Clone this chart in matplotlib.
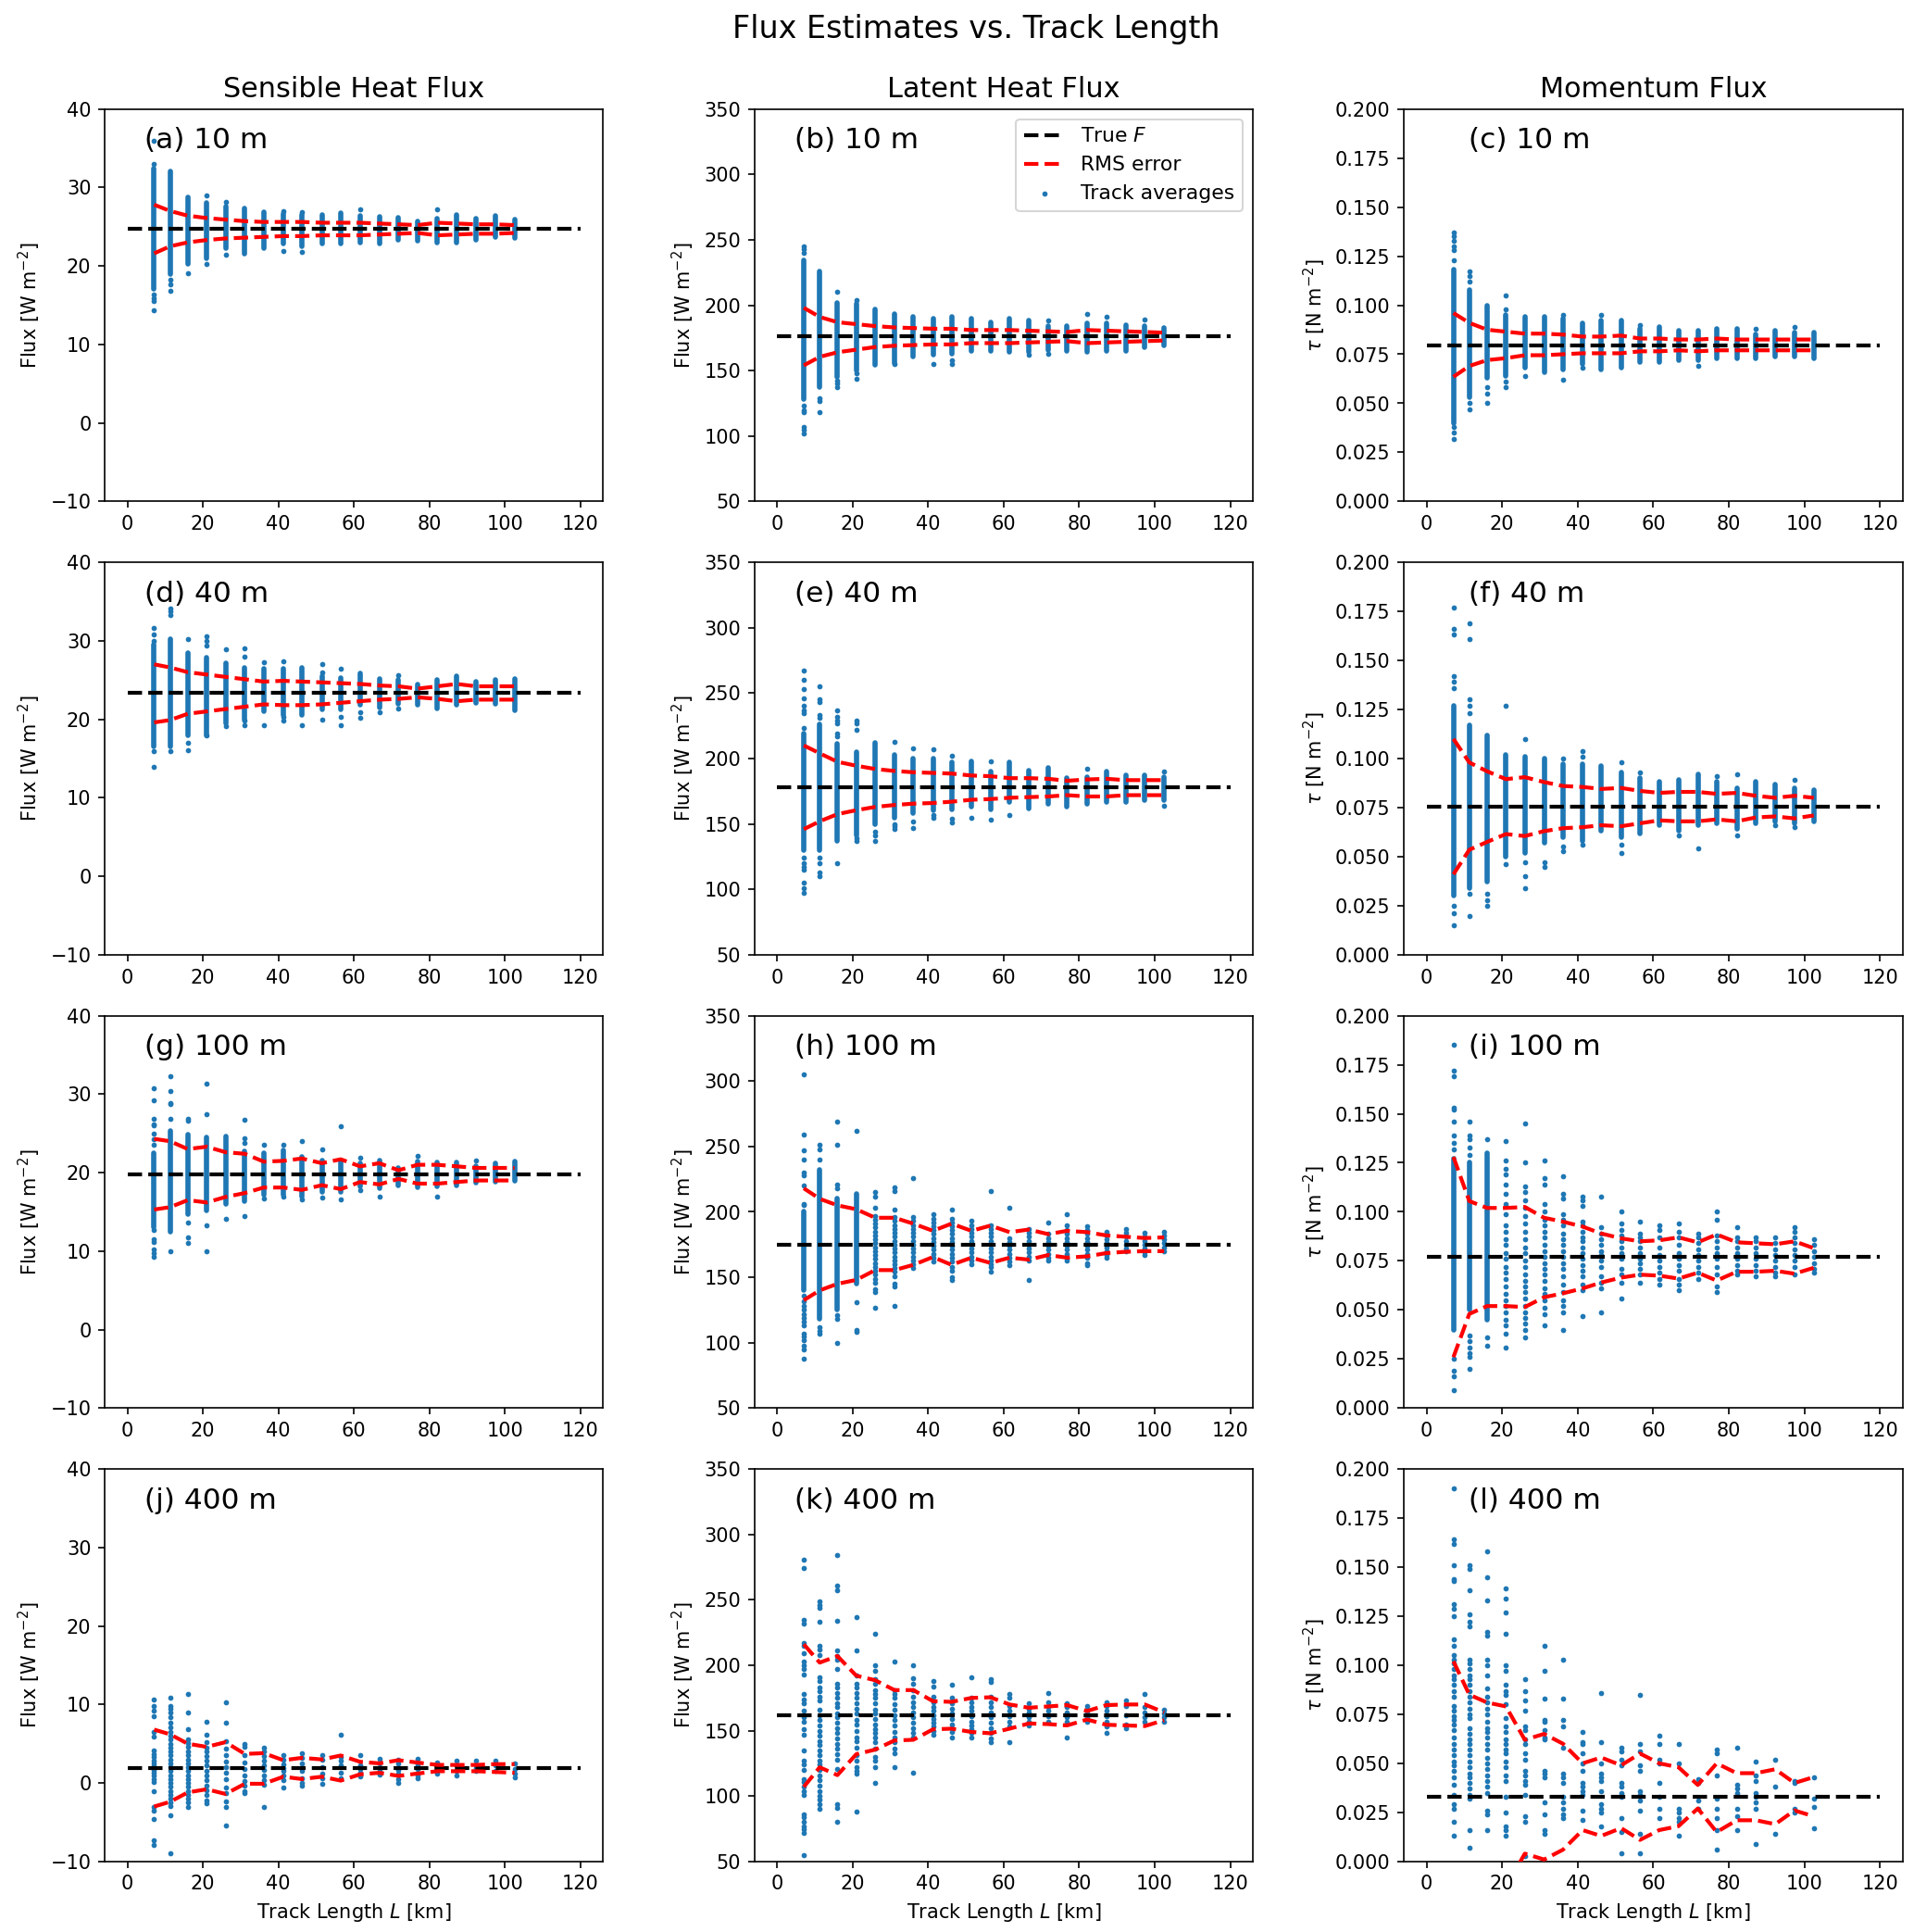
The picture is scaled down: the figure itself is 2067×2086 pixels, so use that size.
import matplotlib.pyplot as plt
from matplotlib.ticker import MultipleLocator
import numpy as np

# track lengths L [km] of the 20 track-average columns
track_km = [7.1, 11.3, 16.0, 21.0, 26.0, 31.1, 36.1, 41.3, 46.2, 51.5,
            56.5, 61.6, 66.7, 71.8, 76.8, 82.1, 87.2, 92.3, 97.4, 102.5]
true_span = [0, 120]

col_titles = ["Sensible Heat Flux", "Latent Heat Flux", "Momentum Flux"]
heights = ["10 m", "40 m", "100 m", "400 m"]
letters = "abcdefghijkl"

# ---------------- (a) sensible, 10 m ----------------
a_true = 24.7
a_hi = [27.8, 27.0, 26.4, 26.1, 25.9, 25.7, 25.6, 25.6, 25.6, 25.5,
        25.5, 25.5, 25.4, 25.3, 25.2, 25.5, 25.4, 25.3, 25.3, 25.2]
a_lo = [21.6, 22.5, 23.0, 23.3, 23.5, 23.6, 23.7, 23.8, 23.8, 23.9,
        23.9, 23.9, 24.0, 24.1, 24.2, 23.9, 24.0, 24.1, 24.1, 24.2]
a_band = [(17.1, 32.4), (19.0, 32.0), (20.3, 28.8), (21.0, 28.0), (22.3, 27.6),
          (21.6, 27.3), (22.2, 26.9), (22.8, 26.6), (22.5, 26.5), (22.9, 26.5),
          (22.8, 26.7), (23.0, 26.4), (22.9, 26.3), (23.3, 26.1), (23.2, 25.7),
          (23.0, 26.0), (23.0, 26.5), (23.3, 26.0), (23.7, 26.4), (23.5, 25.9)]
a_pts = [[35.9, 33.0, 16.4, 15.9, 15.5, 14.3], [18.2, 17.6, 16.8], [19.1], [29.0, 20.3],
         [28.2, 21.4], [], [], [27.0, 21.9], [26.9, 21.8], [], [], [27.2], [], [], [],
         [27.2], [], [], [], []]

# ---------------- (b) latent, 10 m ----------------
b_true = 176
b_hi = [198, 191, 187, 185.5, 184, 183, 182.5, 182, 182, 181,
        181, 181, 180.5, 180, 179.5, 181, 180.5, 180, 179.5, 179]
b_lo = [154, 160.5, 164, 166, 168, 169, 169.5, 170, 170, 171,
        171, 171, 171.5, 172, 172.5, 171, 171.5, 172, 172.5, 173]
b_band = [(128, 234), (137, 226), (145, 202), (150, 201), (154, 197), (156, 193),
          (161, 191), (162, 190), (163, 191), (165, 190), (165, 187), (164, 190),
          (164, 188), (166, 184), (165, 184), (164, 186), (165, 186), (165, 185),
          (168, 184), (169, 183)]
b_pts = [[245, 243, 240, 123, 120, 118, 107, 105, 102], [129, 127, 118], [210, 142, 140, 137],
         [204, 148, 144], [], [155], [], [155], [158, 155], [], [], [], [162], [188, 163],
         [], [193], [191], [], [189], []]

# ---------------- (c) momentum, 10 m ----------------
c_true = 0.0797
c_hi = [0.096, 0.091, 0.0875, 0.0865, 0.0855, 0.0855, 0.085, 0.084, 0.084, 0.0845,
        0.083, 0.083, 0.0825, 0.0825, 0.083, 0.0825, 0.0825, 0.0825, 0.0825, 0.0825]
c_lo = [0.0635, 0.069, 0.072, 0.073, 0.0745, 0.0745, 0.075, 0.0755, 0.0755, 0.0755,
        0.0765, 0.0765, 0.077, 0.0765, 0.077, 0.077, 0.077, 0.077, 0.077, 0.077]
c_band = [(0.040, 0.118), (0.053, 0.108), (0.063, 0.100), (0.064, 0.095), (0.068, 0.094),
          (0.066, 0.094), (0.067, 0.093), (0.070, 0.091), (0.067, 0.092), (0.068, 0.092),
          (0.071, 0.088), (0.071, 0.089), (0.072, 0.087), (0.072, 0.087), (0.073, 0.088),
          (0.073, 0.088), (0.073, 0.085), (0.074, 0.087), (0.074, 0.086), (0.073, 0.086)]
c_pts = [[0.137, 0.135, 0.133, 0.130, 0.128, 0.123, 0.038, 0.035, 0.032],
         [0.117, 0.115, 0.112, 0.050, 0.047], [0.058, 0.055, 0.050],
         [0.105, 0.098, 0.061, 0.058], [0.064], [], [0.095, 0.062], [0.068], [0.095], [],
         [0.090], [], [], [0.069], [], [], [0.088], [], [0.089], []]

# ---------------- (d) sensible, 40 m ----------------
d_true = 23.35
d_hi = [27.0, 26.6, 26.0, 25.7, 25.4, 25.1, 24.8, 24.9, 24.8, 24.7,
        24.6, 24.5, 24.3, 24.2, 23.9, 24.2, 24.5, 24.2, 24.2, 24.2]
d_lo = [19.6, 19.9, 20.7, 21.0, 21.3, 21.6, 21.9, 21.8, 21.8, 21.9,
        22.1, 22.3, 22.5, 22.6, 22.8, 22.6, 22.3, 22.5, 22.5, 22.5]
d_band = [(16.5, 29.5), (16.5, 30.2), (18.0, 28.5), (18.0, 27.8), (19.5, 27.2),
          (20.0, 26.6), (21.0, 26.5), (20.5, 26.4), (20.5, 26.6), (21.3, 25.5),
          (21.3, 25.3), (21.8, 25.8), (21.5, 25.1), (22.0, 25.0), (21.8, 24.4),
          (21.4, 25.0), (21.8, 25.5), (22.1, 24.8), (22.0, 25.0), (21.1, 25.1)]
d_pts = [[31.6, 30.8, 30.0, 15.9, 13.9], [34.1, 33.8, 33.3, 15.9], [30.2, 17.0, 16.1],
         [30.6, 30.0, 29.4, 17.9], [28.9, 19.1], [29.0, 28.0, 19.8, 19.3], [27.3, 19.3],
         [27.4, 20.3, 19.8], [19.2], [27.0, 26.0, 19.9], [26.4, 20.3, 19.2], [20.9, 20.2],
         [20.9], [25.6, 21.4], [], [], [], [], [], []]

# ---------------- (e) latent, 40 m ----------------
e_true = 177.8
e_hi = [210, 204, 197.5, 194.5, 192, 190.5, 189.5, 189, 188.5, 187,
        186.5, 185, 185, 184.5, 183, 184, 184.5, 183.5, 183.5, 183.5]
e_lo = [146, 152, 157.5, 160.5, 163, 164.5, 165.5, 166, 167, 168.5,
        169, 170, 170.5, 171, 172, 171, 171, 172, 172, 172]
e_band = [(130, 219), (130, 226), (137, 211), (141, 205), (150, 212), (155, 203),
          (158, 200), (160, 200), (161, 197), (163, 198), (161, 190), (167, 197),
          (162, 191), (165, 193), (163, 185), (165, 186), (167, 190), (167, 187),
          (168, 187), (168, 186)]
e_pts = [[267, 260, 253, 246, 240, 237, 235, 223, 124, 120, 117, 115, 105, 101, 97],
         [255, 245, 243, 233, 231, 124, 120, 113, 110], [237, 232, 229, 227, 219, 217, 120],
         [229, 227, 222, 139, 137], [144, 141, 137], [213, 150, 148, 146], [208, 152, 147],
         [207, 157, 155], [202, 154, 151], [155], [198, 153], [157], [], [], [], [192],
         [], [], [], [190, 164]]

# ---------------- (f) momentum, 40 m ----------------
f_true = 0.0756
f_hi = [0.110, 0.098, 0.0935, 0.0895, 0.0905, 0.088, 0.086, 0.0855, 0.0845, 0.085,
        0.0835, 0.0825, 0.083, 0.083, 0.082, 0.0825, 0.081, 0.080, 0.081, 0.080]
f_lo = [0.041, 0.0535, 0.0575, 0.0615, 0.0605, 0.063, 0.0645, 0.065, 0.066, 0.0655,
        0.067, 0.0685, 0.068, 0.068, 0.069, 0.068, 0.070, 0.0705, 0.0695, 0.071]
f_band = [(0.030, 0.127), (0.034, 0.117), (0.037, 0.112), (0.050, 0.102), (0.052, 0.101),
          (0.057, 0.100), (0.060, 0.097), (0.058, 0.097), (0.063, 0.096), (0.060, 0.093),
          (0.062, 0.090), (0.066, 0.088), (0.063, 0.089), (0.066, 0.092), (0.067, 0.088),
          (0.064, 0.085), (0.067, 0.088), (0.068, 0.087), (0.067, 0.085), (0.068, 0.084)]
f_pts = [[0.177, 0.166, 0.163, 0.142, 0.139, 0.136, 0.025, 0.021, 0.015],
         [0.169, 0.161, 0.130, 0.127, 0.123, 0.031, 0.020], [0.031, 0.028, 0.025],
         [0.127, 0.046], [0.110, 0.047, 0.040, 0.034], [0.047, 0.045], [0.100, 0.055, 0.053],
         [0.104, 0.101, 0.056], [], [0.098, 0.056, 0.052], [0.093], [], [0.061], [0.054],
         [0.091], [0.092, 0.061], [], [0.066], [0.089, 0.065], []]

# ---------------- (g) sensible, 100 m ----------------
g_true = 19.8
g_hi = [24.3, 24.0, 23.0, 23.3, 22.6, 22.4, 21.4, 21.5, 21.8, 21.2,
        21.7, 20.8, 21.2, 20.3, 21.0, 21.0, 20.8, 20.6, 20.6, 20.6]
g_lo = [15.3, 15.6, 16.5, 16.2, 16.9, 17.4, 18.1, 18.1, 17.8, 18.4,
        17.9, 18.8, 18.5, 19.2, 18.6, 18.6, 18.8, 19.0, 19.0, 19.0]
g_band = [(13.0, 22.5), (12.5, 25.3), (14.7, 24.8), (15.2, 24.5), (16.0, 24.6),
          (16.4, 22.7), (17.2, 22.5), (17.2, 22.8), (17.0, 22.0), (17.5, 21.6),
          (17.5, 21.5), (18.2, 21.2), (18.0, 21.5), (18.4, 20.6), (18.1, 21.4),
          (18.3, 21.3), (18.4, 21.3), (18.7, 20.8), (18.8, 21.2), (18.9, 21.4)]
g_pts = [[30.8, 29.2, 26.9, 26.2, 26.0, 25.0, 24.3, 23.6, 12.7, 11.5, 11.2, 10.2, 9.7, 9.3],
         [32.3, 30.4, 28.9, 28.7, 26.8, 10.0], [26.8, 26.6, 13.6, 11.8, 11.1],
         [31.3, 27.5, 13.3, 10.0], [14.1], [26.7, 24.4, 23.8, 14.5], [23.6, 16.7],
         [23.6, 17.0], [24.0, 16.6], [23.0, 16.8], [25.9, 16.6], [21.9, 17.8], [16.9],
         [], [22.1], [17.0], [], [21.5], [], []]

# ---------------- (h) latent, 100 m ----------------
h_true = 175.2
h_hi = [218, 210, 205, 202, 195.5, 195.5, 191, 185.5, 191, 185.5,
        189.5, 184.5, 186.5, 183, 185.5, 184.5, 182, 181, 180, 180.5]
h_lo = [132.5, 140, 145, 148, 155.5, 155.5, 159.5, 165.5, 159.5, 165,
        161, 165, 163.5, 167, 165, 166, 168.5, 169.5, 170, 170]
h_band = [(140, 200), (118, 232), (125, 210), (145, 214)] + [None] * 16
h_pts = [[305, 259, 247, 240, 230, 228, 220, 206, 205, 136, 132, 128, 125, 122, 119, 116,
          113, 107, 105, 102, 98, 95, 88],
         [251, 248, 240, 112, 109, 107],
         [269, 251, 221, 218, 121, 118, 100],
         [262, 131, 110, 108],
         [215, 212, 203, 197, 194, 191, 188, 185, 182, 179, 176, 173, 170, 167, 164, 161,
          158, 155, 152, 149, 146, 141, 139, 127],
         [219, 216, 202, 196, 193, 190, 187, 184, 181, 178, 175, 172, 169, 166, 163, 160,
          157, 154, 151, 145, 143, 128],
         [226, 196, 193, 190, 187, 184, 181, 178, 175, 172, 169, 166, 163, 160, 157],
         [198, 195, 192, 189, 186, 183, 180, 177, 174, 171, 168, 165, 162],
         [202, 195, 192, 189, 186, 183, 180, 177, 174, 171, 168, 165, 162, 158, 155, 150, 148],
         [193, 190, 187, 184, 181, 178, 175, 172, 169, 166, 163, 160],
         [216, 190, 187, 184, 181, 178, 175, 172, 169, 166, 163, 160, 158, 154],
         [203, 180, 177, 174, 171, 168, 165, 162, 159],
         [187, 184, 181, 178, 175, 172, 169, 166, 163, 148],
         [192, 183, 180, 177, 174, 171, 168, 165, 163],
         [198, 190, 186, 183, 180, 177, 174, 171, 168, 165, 163],
         [189, 186, 183, 180, 177, 174, 171, 168, 165, 161, 159],
         [185, 182, 179, 176, 173, 170, 167, 165],
         [187, 184, 181, 178, 175, 172, 170],
         [184, 181, 178, 175, 172, 169, 167],
         [185, 182, 179, 176, 173, 170]]

# ---------------- (i) momentum, 100 m ----------------
i_true = 0.0769
i_hi = [0.128, 0.1055, 0.102, 0.102, 0.1025, 0.097, 0.095, 0.0925, 0.089, 0.0865,
        0.085, 0.0855, 0.087, 0.0845, 0.0885, 0.0845, 0.084, 0.0835, 0.085, 0.0815]
i_lo = [0.026, 0.048, 0.052, 0.052, 0.0515, 0.0565, 0.0585, 0.061, 0.064, 0.0665,
        0.068, 0.0675, 0.066, 0.069, 0.065, 0.0695, 0.0695, 0.070, 0.0685, 0.0715]
i_band = [(0.040, 0.127), (0.050, 0.125), (0.045, 0.130)] + [None] * 17
i_pts = [[0.185, 0.172, 0.169, 0.153, 0.152, 0.146, 0.139, 0.135, 0.132, 0.025, 0.019,
          0.016, 0.009],
         [0.146, 0.139, 0.137, 0.133, 0.129, 0.037, 0.034, 0.031, 0.028, 0.026, 0.020],
         [0.137, 0.036, 0.032],
         [0.136, 0.126, 0.122, 0.119, 0.114, 0.109, 0.104, 0.099, 0.093, 0.090, 0.086, 0.083,
          0.079, 0.076, 0.072, 0.069, 0.066, 0.062, 0.058, 0.055, 0.052, 0.049, 0.045, 0.042,
          0.038, 0.031],
         [0.145, 0.125, 0.113, 0.110, 0.106, 0.102, 0.098, 0.094, 0.090, 0.086, 0.082, 0.079,
          0.075, 0.072, 0.068, 0.065, 0.062, 0.059, 0.056, 0.052, 0.049, 0.046, 0.043, 0.040,
          0.036],
         [0.126, 0.117, 0.114, 0.104, 0.100, 0.096, 0.093, 0.090, 0.087, 0.083, 0.080, 0.077,
          0.074, 0.071, 0.068, 0.065, 0.061, 0.058, 0.055, 0.051, 0.048, 0.042],
         [0.118, 0.109, 0.107, 0.099, 0.096, 0.093, 0.089, 0.086, 0.083, 0.080, 0.077, 0.074,
          0.071, 0.067, 0.063, 0.059, 0.055, 0.052, 0.049, 0.040],
         [0.108, 0.106, 0.103, 0.095, 0.093, 0.090, 0.087, 0.085, 0.082, 0.079, 0.076, 0.073,
          0.070, 0.067, 0.063, 0.060, 0.047],
         [0.108, 0.092, 0.089, 0.086, 0.083, 0.080, 0.078, 0.075, 0.072, 0.067, 0.064, 0.061,
          0.049],
         [0.100, 0.094, 0.091, 0.088, 0.085, 0.082, 0.079, 0.076, 0.071, 0.068, 0.064, 0.056],
         [0.095, 0.089, 0.087, 0.085, 0.082, 0.079, 0.076, 0.074, 0.071, 0.068, 0.064],
         [0.093, 0.091, 0.087, 0.082, 0.078, 0.075, 0.072, 0.069, 0.066, 0.063],
         [0.094, 0.090, 0.087, 0.083, 0.079, 0.076, 0.073, 0.070, 0.066, 0.063, 0.060],
         [0.089, 0.087, 0.084, 0.081, 0.078, 0.075, 0.072, 0.069, 0.066],
         [0.100, 0.096, 0.088, 0.085, 0.082, 0.079, 0.076, 0.072, 0.068, 0.062, 0.059],
         [0.092, 0.087, 0.085, 0.082, 0.079, 0.076, 0.073, 0.070, 0.068],
         [0.087, 0.085, 0.082, 0.079, 0.076, 0.073, 0.070, 0.067],
         [0.087, 0.084, 0.081, 0.078, 0.075, 0.072, 0.069, 0.067],
         [0.092, 0.090, 0.087, 0.084, 0.081, 0.078, 0.075, 0.072, 0.068],
         [0.086, 0.083, 0.080, 0.077, 0.074, 0.071, 0.069]]

# ---------------- (j) sensible, 400 m ----------------
j_true = 1.9
j_hi = [6.8, 6.2, 5.0, 4.6, 5.2, 3.7, 3.8, 2.9, 3.2, 3.0,
        3.5, 2.7, 2.5, 2.9, 2.6, 2.3, 2.3, 2.3, 2.4, 2.4]
j_lo = [-3.0, -2.4, -1.2, -0.8, -1.4, -0.1, -0.1, 0.8, 0.5, 0.8,
        0.3, 1.1, 1.3, 0.9, 1.2, 1.5, 1.5, 1.5, 1.4, 1.3]
j_band = [None] * 20
j_pts = [[10.6, 9.8, 9.2, 8.5, 6.5, 5.9, 4.1, 3.7, 3.3, 2.9, 2.5, 2.1, 1.7, 1.3, 0.9, 0.5,
          0.1, -1.1, -3.0, -3.5, -4.6, -7.3, -7.9],
         [10.9, 9.8, 9.5, 9.0, 8.4, 7.7, 7.1, 6.5, 6.0, 5.5, 5.0, 4.5, 4.0, 3.5, 3.0, 2.5,
          2.0, 1.5, 1.0, 0.5, 0.0, -0.5, -1.0, -1.5, -2.0, -2.5, -2.9, -4.1, -8.9],
         [11.3, 9.0, 6.9, 5.6, 5.1, 4.6, 4.0, 3.5, 3.0, 2.5, 2.0, 1.5, 1.0, 0.5, 0.0, -0.5,
          -1.0, -1.5, -2.0, -2.5, -3.0],
         [7.8, 6.2, 5.2, 4.5, 4.0, 3.4, 2.8, 2.2, 1.6, 1.0, 0.4, -0.3, -0.9, -1.5, -2.2, -2.6],
         [10.3, 7.7, 5.3, 4.4, 3.5, 2.7, 2.0, 1.3, 0.5, -0.6, -1.3, -2.3, -3.1, -5.4],
         [5.0, 4.6, 3.6, 2.6, 1.8, 1.0, 0.3, -0.3, -1.0, -1.3],
         [4.5, 4.0, 3.4, 2.9, 2.3, 1.7, 1.0, 0.4, -0.2, -3.1],
         [3.5, 3.0, 2.4, 1.9, 1.5, 1.0, 0.4, -0.6],
         [3.8, 3.2, 2.5, 1.5, 0.6, 0.0, -0.4],
         [3.5, 3.0, 2.0, 1.2, 0.6, -0.1],
         [6.1, 3.3, 2.8, 2.2, 1.3, 0.6],
         [3.6, 2.3, 1.8, 1.3, 0.8],
         [3.1, 2.6, 2.0, 1.6, 1.1],
         [3.0, 2.5, 1.7, 1.2, 0.5, 0.0],
         [3.1, 2.4, 1.8, 1.0, 0.6],
         [2.6, 2.1, 1.6, 1.2],
         [2.8, 2.3, 1.6, 1.0],
         [2.8, 2.3, 1.9, 1.6],
         [2.8, 2.2, 1.5],
         [2.5, 1.8, 1.2, 0.7]]

# ---------------- (k) latent, 400 m ----------------
k_true = 161.8
k_hi = [216, 202, 207, 192, 188.5, 181, 181, 172.5, 172, 175,
        175.5, 170, 167.5, 168.5, 169.5, 165, 169.5, 170, 170, 164]
k_lo = [107, 122, 116, 132, 135.5, 142.5, 143, 151, 151.5, 149,
        148, 151.5, 155.5, 155, 154, 158.5, 154.5, 154, 153.5, 158]
k_band = [None] * 20
k_pts = [[281, 274, 235, 232, 217, 215, 209, 203, 200, 197, 193, 178, 174, 171, 165, 160,
          157, 151, 147, 135, 127, 124, 120, 113, 111, 107, 104, 101, 86, 84, 80, 77, 75,
          72, 55],
         [249, 246, 244, 233, 215, 212, 208, 191, 188, 183, 180, 176, 173, 166, 162, 158,
          154, 150, 146, 142, 139, 135, 131, 127, 124, 120, 116, 112, 108, 104, 100, 97,
          94, 90],
         [284, 261, 257, 234, 211, 207, 204, 197, 186, 183, 179, 175, 171, 168, 163, 160,
          156, 152, 148, 144, 140, 136, 132, 128, 121, 94, 91, 80],
         [237, 211, 192, 186, 183, 179, 175, 171, 167, 163, 158, 155, 150, 145, 142, 137,
          131, 127, 122, 119, 117, 88],
         [224, 200, 196, 189, 186, 181, 178, 175, 171, 166, 163, 159, 155, 151, 148, 145,
          141, 136, 130, 127, 122, 110],
         [203, 181, 178, 175, 170, 166, 162, 158, 154, 149, 145, 141, 136, 133, 122],
         [200, 190, 186, 181, 176, 172, 168, 164, 160, 156, 152, 148, 145, 118],
         [188, 184, 176, 172, 168, 165, 162, 159, 156, 153, 150, 147],
         [185, 175, 171, 167, 163, 159, 155, 152, 149, 145],
         [191, 175, 172, 168, 165, 161, 157, 154, 151, 148, 145],
         [189, 187, 176, 172, 168, 164, 160, 156, 152, 148, 144, 141],
         [178, 175, 169, 165, 161, 157, 153, 141],
         [171, 167, 164, 160, 157, 154],
         [179, 172, 168, 165, 161, 157],
         [171, 168, 164, 160, 157, 145],
         [169, 166, 163, 160, 157],
         [172, 169, 165, 161, 157, 153, 148],
         [173, 169, 162, 155, 152],
         [178, 168, 164, 160, 157],
         [166, 163, 160, 157]]

# ---------------- (l) momentum, 400 m ----------------
l_true = 0.0331
l_hi = [0.102, 0.085, 0.081, 0.079, 0.062, 0.065, 0.060, 0.050, 0.053, 0.049,
        0.055, 0.050, 0.048, 0.039, 0.050, 0.045, 0.045, 0.047, 0.040, 0.043]
l_lo = [-0.036, -0.019, -0.015, -0.013, 0.004, 0.001, 0.006, 0.016, 0.013, 0.017,
        0.011, 0.016, 0.018, 0.027, 0.015, 0.021, 0.021, 0.019, 0.026, 0.023]
l_band = [None] * 20
l_pts = [[0.190, 0.164, 0.162, 0.151, 0.144, 0.143, 0.131, 0.129, 0.125, 0.113, 0.110,
          0.105, 0.103, 0.101, 0.098, 0.095, 0.093, 0.090, 0.087, 0.084, 0.079, 0.077,
          0.074, 0.072, 0.070, 0.067, 0.063, 0.060, 0.057, 0.054, 0.051, 0.049, 0.046,
          0.043, 0.039, 0.034, 0.029, 0.027, 0.020, 0.013],
         [0.151, 0.149, 0.138, 0.126, 0.122, 0.120, 0.103, 0.101, 0.098, 0.095, 0.093,
          0.090, 0.087, 0.084, 0.081, 0.078, 0.075, 0.073, 0.068, 0.065, 0.062, 0.060,
          0.057, 0.054, 0.051, 0.048, 0.045, 0.043, 0.040, 0.037, 0.034, 0.032, 0.016,
          0.007],
         [0.158, 0.145, 0.133, 0.117, 0.115, 0.103, 0.100, 0.095, 0.088, 0.084, 0.081,
          0.078, 0.075, 0.071, 0.068, 0.066, 0.063, 0.060, 0.057, 0.053, 0.050, 0.047,
          0.044, 0.041, 0.038, 0.035, 0.026, 0.024, 0.016],
         [0.139, 0.134, 0.127, 0.116, 0.100, 0.097, 0.090, 0.087, 0.085, 0.080, 0.073,
          0.069, 0.066, 0.062, 0.060, 0.057, 0.055, 0.051, 0.048, 0.044, 0.041, 0.033,
          0.025, 0.018, 0.016, 0.013],
         [0.093, 0.087, 0.082, 0.077, 0.069, 0.067, 0.062, 0.060, 0.055, 0.052, 0.046,
          0.044, 0.041, 0.039, 0.034, 0.023, 0.020, 0.003],
         [0.110, 0.097, 0.083, 0.072, 0.071, 0.067, 0.063, 0.062, 0.046, 0.045, 0.043,
          0.030, 0.024, 0.016, 0.014],
         [0.103, 0.083, 0.072, 0.069, 0.058, 0.045, 0.043, 0.040, 0.033, 0.030, 0.027,
          0.024, 0.022],
         [0.066, 0.061, 0.060, 0.055, 0.050, 0.046, 0.040, 0.038, 0.036, 0.034, 0.026, 0.021],
         [0.086, 0.061, 0.050, 0.045, 0.043, 0.041, 0.036, 0.029, 0.027, 0.025, 0.018],
         [0.058, 0.056, 0.052, 0.049, 0.040, 0.038, 0.035, 0.033, 0.022, 0.015, 0.004],
         [0.085, 0.060, 0.056, 0.049, 0.046, 0.036, 0.034, 0.031, 0.026, 0.014, 0.004],
         [0.064, 0.060, 0.052, 0.050, 0.040, 0.033, 0.027, 0.022],
         [0.060, 0.050, 0.027, 0.025, 0.022, 0.020, 0.013],
         [0.042, 0.040, 0.031, 0.027],
         [0.057, 0.055, 0.044, 0.032, 0.027, 0.022, 0.016, 0.006],
         [0.058, 0.039, 0.037, 0.035, 0.027, 0.023, 0.016],
         [0.051, 0.044, 0.041, 0.035, 0.033, 0.030, 0.027, 0.009],
         [0.052, 0.038, 0.014],
         [0.041, 0.040, 0.027, 0.025],
         [0.043, 0.032, 0.028, 0.017]]

panels = [
    (a_true, a_hi, a_lo, a_band, a_pts), (b_true, b_hi, b_lo, b_band, b_pts),
    (c_true, c_hi, c_lo, c_band, c_pts), (d_true, d_hi, d_lo, d_band, d_pts),
    (e_true, e_hi, e_lo, e_band, e_pts), (f_true, f_hi, f_lo, f_band, f_pts),
    (g_true, g_hi, g_lo, g_band, g_pts), (h_true, h_hi, h_lo, h_band, h_pts),
    (i_true, i_hi, i_lo, i_band, i_pts), (j_true, j_hi, j_lo, j_band, j_pts),
    (k_true, k_hi, k_lo, k_band, k_pts), (l_true, l_hi, l_lo, l_band, l_pts),
]

ylims = [(-10, 40), (50, 350), (0, 0.2)]
ysteps = [10, 50, 0.025]
ylabels = [r"Flux [W m$^{-2}$]", r"Flux [W m$^{-2}$]", r"$\tau$ [N m$^{-2}$]"]
DOT = "#1f77b4"


def plot_panel(ax, true_f, rms_hi, rms_lo, band, pts):
    # dense runs of track averages, drawn as a run of touching dots
    for x, b in zip(track_km, band):
        if b is not None:
            ax.vlines(x, b[0], b[1], colors=DOT, linewidth=2.7,
                      capstyle="round", zorder=2)
    xs = [x for x, col in zip(track_km, pts) for _ in col]
    ys = [v for col in pts for v in col]
    sc = ax.scatter(xs, ys, s=7.5, color=DOT, linewidths=0, zorder=2,
                    label="Track averages")
    tl, = ax.plot(true_span, [true_f, true_f], "k--", lw=2, zorder=3,
                  label="True $F$")
    rl, = ax.plot(track_km, rms_hi, "r--", lw=2, zorder=4, label="RMS error")
    ax.plot(track_km, rms_lo, "r--", lw=2, zorder=4)
    return tl, rl, sc


fig, axes = plt.subplots(4, 3, figsize=(13.78, 13.907), dpi=150)
fig.subplots_adjust(left=0.0547, right=0.994, bottom=0.0365, top=0.9436,
                    wspace=0.303, hspace=0.155)

for n, ax in enumerate(axes.flat):
    r, c = divmod(n, 3)
    handles = plot_panel(ax, *panels[n])
    ax.set_xlim(-6, 126)
    ax.set_ylim(*ylims[c])
    ax.xaxis.set_major_locator(MultipleLocator(20))
    ax.yaxis.set_major_locator(MultipleLocator(ysteps[c]))
    ax.set_ylabel(ylabels[c])
    tx = 0.13 if c == 2 else 0.08
    ax.text(tx, 0.92, f"({letters[n]}) {heights[r]}", transform=ax.transAxes,
            fontsize=15, ha="left", va="center")
    if r == 0:
        ax.set_title(col_titles[c], fontsize=14.5)
    if r == 3:
        ax.set_xlabel("Track Length $L$ [km]")
    if n == 1:
        ax.legend(handles=list(handles), loc="upper right", fontsize=10.5)

fig.suptitle("Flux Estimates vs. Track Length", fontsize=16, x=0.51, y=0.993)
fig.savefig("out.png", dpi=150)
